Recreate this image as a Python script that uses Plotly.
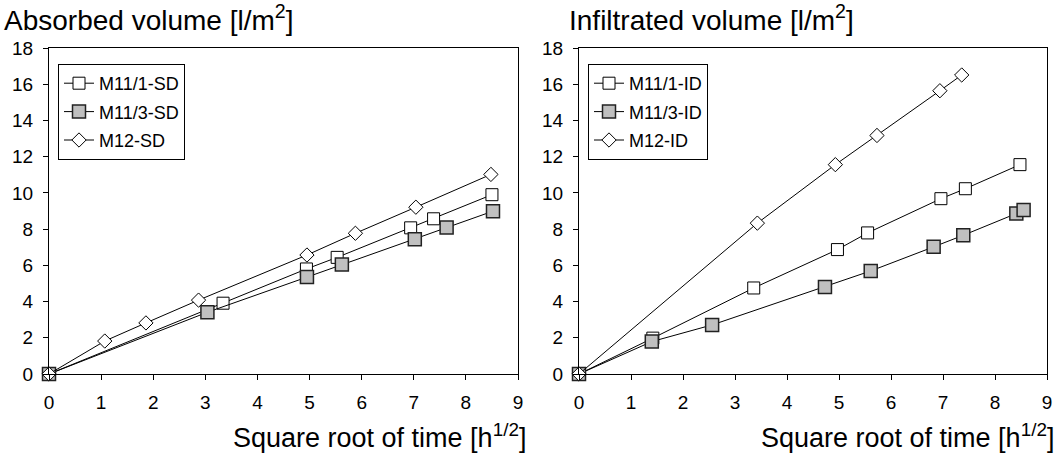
import plotly.graph_objects as go

# Left chart: absorbed volume
sd_m11_1_x = [0, 3.34, 4.94, 5.53, 6.94, 7.38, 8.50]
sd_m11_1_y = [0, 3.91, 5.80, 6.44, 8.07, 8.57, 9.90]
sd_m11_3_x = [0, 3.04, 4.95, 5.62, 7.02, 7.63, 8.52]
sd_m11_3_y = [0, 3.41, 5.35, 6.04, 7.44, 8.09, 8.99]
sd_m12_x = [0, 1.07, 1.86, 2.87, 4.95, 5.88, 7.04, 8.48]
sd_m12_y = [0, 1.82, 2.82, 4.08, 6.57, 7.77, 9.21, 11.02]

# Right chart: infiltrated volume
id_m11_1_x = [0, 1.42, 3.36, 4.97, 5.55, 6.96, 7.43, 8.48]
id_m11_1_y = [0, 1.98, 4.75, 6.87, 7.79, 9.68, 10.23, 11.56]
id_m11_3_x = [0, 1.40, 2.56, 4.73, 5.61, 6.82, 7.39, 8.41, 8.55]
id_m11_3_y = [0, 1.79, 2.71, 4.80, 5.69, 7.02, 7.66, 8.86, 9.05]
id_m12_x = [0, 3.43, 4.93, 5.73, 6.94, 7.36]
id_m12_y = [0, 8.33, 11.56, 13.17, 15.64, 16.51]

x_ticks = list(range(0, 10))
y_ticks = list(range(0, 20, 2))

FONT = "Arial, Liberation Sans, sans-serif"

open_sq = dict(symbol="square", size=12, color="white", line=dict(color="black", width=1))
gray_sq = dict(symbol="square", size=13, color="#c0c0c0", line=dict(color="#222222", width=1.5))
diamond = dict(symbol="diamond", size=11, color="white", line=dict(color="black", width=1))
ln = dict(color="black", width=1)

fig = go.Figure()
specs = [
    (sd_m11_1_x, sd_m11_1_y, "M11/1-SD", open_sq, "x", "y", "legend", "a1"),
    (sd_m11_3_x, sd_m11_3_y, "M11/3-SD", gray_sq, "x", "y", "legend", "a2"),
    (sd_m12_x, sd_m12_y, "M12-SD", diamond, "x", "y", "legend", "a3"),
    (id_m11_1_x, id_m11_1_y, "M11/1-ID", open_sq, "x2", "y2", "legend2", "b1"),
    (id_m11_3_x, id_m11_3_y, "M11/3-ID", gray_sq, "x2", "y2", "legend2", "b2"),
    (id_m12_x, id_m12_y, "M12-ID", diamond, "x2", "y2", "legend2", "b3"),
]
for xs, ys, name, mk, xa, ya, lg, grp in specs:
    fig.add_trace(go.Scatter(x=xs, y=ys, name=name, mode="lines+markers",
                             marker=mk, line=ln, xaxis=xa, yaxis=ya,
                             legend=lg, legendgroup=grp, cliponaxis=False))

axis_common = dict(showgrid=False, zeroline=False, showline=True, linecolor="black",
                   linewidth=1, mirror=True, ticks="outside", ticklen=5,
                   tickcolor="black", tickfont=dict(family=FONT, size=19, color="black"))

left_dom = [0, 469 / 998]
right_dom = [530 / 998, 1]
leg_common = dict(xanchor="left", yanchor="top", bordercolor="black", borderwidth=1,
                  bgcolor="white", font=dict(family=FONT, size=18, color="black"),
                  itemwidth=30, traceorder="grouped", tracegroupgap=2)
fig.update_layout(
    width=1064, height=455,
    margin=dict(l=49, r=17, t=48, b=81),
    paper_bgcolor="white", plot_bgcolor="white",
    font=dict(family=FONT, color="black"),
    xaxis=dict(domain=left_dom, range=[0, 9], tickvals=x_ticks, anchor="y",
               ticklabelstandoff=6, **axis_common),
    yaxis=dict(domain=[0, 1], range=[0, 18], tickvals=y_ticks, anchor="x",
               ticklabelstandoff=6, **axis_common),
    xaxis2=dict(domain=right_dom, range=[0, 9], tickvals=x_ticks, anchor="y2",
                ticklabelstandoff=6, **axis_common),
    yaxis2=dict(domain=[0, 1], range=[0, 18], tickvals=y_ticks, anchor="x2",
                ticklabelstandoff=6, **axis_common),
    legend=dict(x=9 / 998, y=(374 - 64) / 326, **leg_common),
    legend2=dict(x=539 / 998, y=(374 - 64) / 326, **leg_common),
    showlegend=True,
)

title_font = dict(family=FONT, size=28, color="black")
xtitle_font = dict(family=FONT, size=27, color="black")
fig.add_annotation(text="Absorbed volume [l/m<sup>2</sup>]", xref="paper", yref="paper",
                   x=(2 - 49) / 998, y=(374 - 18) / 326, xanchor="left", yanchor="middle",
                   showarrow=False, font=title_font)
fig.add_annotation(text="Infiltrated volume [l/m<sup>2</sup>]", xref="paper", yref="paper",
                   x=(567 - 49) / 998, y=(374 - 18) / 326, xanchor="left", yanchor="middle",
                   showarrow=False, font=title_font)
fig.add_annotation(text="Square root of time [h<sup>1/2</sup>]", xref="paper", yref="paper",
                   x=(528 - 49) / 998, y=(374 - 436) / 326, xanchor="right", yanchor="middle",
                   showarrow=False, font=xtitle_font)
fig.add_annotation(text="Square root of time [h<sup>1/2</sup>]", xref="paper", yref="paper",
                   x=(1056 - 49) / 998, y=(374 - 436) / 326, xanchor="right", yanchor="middle",
                   showarrow=False, font=xtitle_font)

fig.write_html("out.html", config={"displayModeBar": False},
               post_script="document.body.style.margin='0';document.body.style.overflow='hidden';")
